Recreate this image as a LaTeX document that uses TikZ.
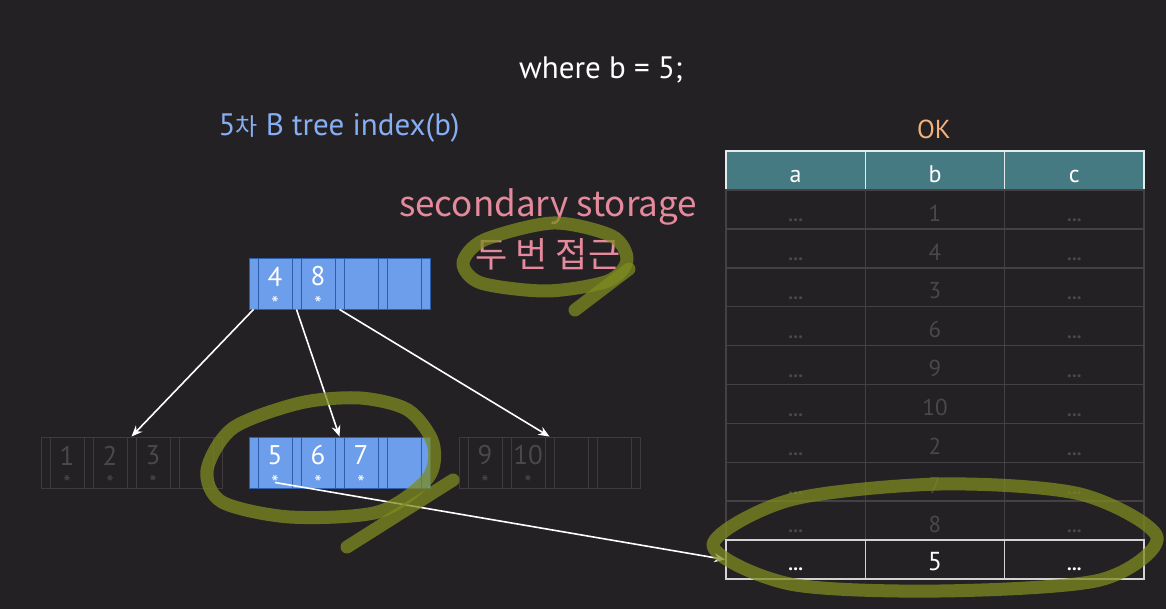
\documentclass[tikz,border=0pt]{standalone}
\usepackage{fontspec}
\setmainfont{PT Sans}
\newfontfamily\kor{Noto Sans CJK KR}
\usetikzlibrary{arrows.meta,calc}

\definecolor{bgdark}{HTML}{242124}
\definecolor{keyblue}{HTML}{6D9EEB}
\definecolor{keyline}{HTML}{2F5DAE}
\definecolor{headteal}{HTML}{467A83}
\definecolor{okorange}{HTML}{F2B07A}
\definecolor{notepink}{HTML}{E48A9C}
\definecolor{idxblue}{HTML}{86AEF2}
\definecolor{fadeline}{HTML}{3D3B3E}
\definecolor{fadetext}{HTML}{4A484B}
\definecolor{gridline}{HTML}{434144}
\definecolor{marker}{HTML}{7D8B1F}

\tikzset{
  ptrbox/.style={draw, inner sep=0pt, minimum width=9pt, minimum height=51pt},
  keybox/.style={draw, inner sep=0pt, minimum width=34pt, minimum height=51pt},
  live/.style={fill=keyblue, draw=keyline, line width=0.9pt, text=white},
  faded/.style={draw=fadeline, line width=0.9pt, text=fadetext},
  keynum/.style={font=\fontsize{27}{30}\selectfont, inner sep=0pt},
  keystar/.style={font=\fontsize{21}{22}\selectfont, inner sep=0pt},
  tcell/.style={draw=gridline, line width=1.6pt, inner sep=0pt, minimum width=139.33pt, minimum height=38.9pt},
  hcell/.style={tcell, fill=headteal, draw=white!85!headteal},
  hdtext/.style={text=white, font=\fontsize{24}{26}\selectfont, inner sep=0pt, anchor=base},
  tval/.style={text=fadetext, font=\fontsize{23}{26}\selectfont, inner sep=0pt},
  tdots/.style={text=fadetext, font=\fontsize{19}{20}\selectfont\bfseries, inner sep=0pt, anchor=base},
  ptrarrow/.style={draw=white, line width=1.6pt, -{Stealth[length=11pt,width=9pt]}},
  hilite/.style={draw=marker, opacity=0.75, line width=13pt, line cap=round, line join=round},
}

% one B tree node: name, left x, top y, look, keys
\newcommand{\btnode}[5]{%
  \foreach \i in {1,...,5}
    \node[ptrbox,#4] (#1-p\i) at ({#2+4.5+43*(\i-1)},{#3+25.5}) {};
  \foreach \i in {1,...,4}
    \node[keybox,#4] (#1-k\i) at ({#2+26+43*(\i-1)},{#3+25.5}) {};
  \foreach \k [count=\i] in {#5} {
    \node[keynum,#4,draw=none,fill=none] (#1-n\i) at ($(#1-k\i.center)+(0,-7)$) {\k};
    \node[keystar,#4,draw=none,fill=none] (#1-s\i) at ($(#1-k\i.center)+(0,20)$) {*};
  }
}

\begin{document}
\begin{tikzpicture}[x=1pt,y=-1pt]
  \useasboundingbox (0,0) rectangle (1166,609);
  \fill[bgdark] (0,0) rectangle (1166,609);

  % titles
  \node[text=white, font=\fontsize{31}{34}\selectfont] (query) at (601,70) {where b = 5;};
  \node[text=idxblue, font=\fontsize{31}{34}\selectfont] (idxtitle) at (339,128) {5{\kor\fontsize{24}{26}\selectfont 차} B tree index(b)};
  \node[text=okorange, font=\fontsize{26}{30}\selectfont] (oktitle) at (934,129) {OK};
  \node[text=notepink, font=\kor\fontsize{35}{38}\selectfont] (note1) at (548,207) {secondary storage};
  \node[text=notepink, font=\kor\fontsize{35}{38}\selectfont] (note2) at (548,254) {두 번 접근};

  % B tree
  \btnode{root}{249}{258}{live}{4,8}
  \btnode{left}{41}{437}{faded}{1,2,3}
  \btnode{mid}{249}{437}{live}{5,6,7}
  \btnode{right}{459}{437}{faded}{9,10}

  \draw[ptrarrow] (root-p1.south) -- (left-p3.north);
  \draw[ptrarrow] (root-p2.south) -- (mid-p3.north);
  \draw[ptrarrow] (root-p3.south) -- (right-p3.north);

  % table
  \foreach \col [count=\j] in {a,b,c} {
    \node[hcell] (h-\j) at ({726+139.33*(\j-0.5)},170.5) {};
    \node[hdtext] (ht-\j) at ($(h-\j.south)+(0,-8)$) {\col};
  }
  \foreach \v [count=\i] in {1,4,3,6,9,10,2,7,8} {
    \foreach \j in {1,2,3}
      \node[tcell] (r\i-\j) at ({726+139.33*(\j-0.5)},{190+38.9*(\i-0.5)}) {};
    \node[tval] (v\i) at ($(r\i-2.center)+(0,3.5)$) {\v};
    \node[tdots] (a\i) at ($(r\i-1.south)+(0,-8)$) {...};
    \node[tdots] (c\i) at ($(r\i-3.south)+(0,-8)$) {...};
  }
  \foreach \j in {1,2,3}
    \node[tcell, draw=white!80!bgdark] (r10-\j) at ({726+139.33*(\j-0.5)},{190+38.9*9.5}) {};
  \node[tval, text=white, font=\fontsize{26}{28}\selectfont] (v10) at ($(r10-2.center)+(0,2.5)$) {5};
  \node[tdots, text=white] (a10) at ($(r10-1.south)+(0,-9)$) {...};
  \node[tdots, text=white] (c10) at ($(r10-3.south)+(0,-9)$) {...};

  \draw[ptrarrow] (mid-s1.center) -- (r10-1.west);

  % marker strokes
  \draw[hilite] plot[smooth cycle] coordinates {(553,223) (612,236) (627,260) (608,281) (547,291) (481,283) (463,263) (484,240)};
  \draw[hilite] (629,269) -- (575,310);
  \draw[hilite] plot[smooth cycle] coordinates {(300,403) (360,398) (408,410) (433,443) (428,478) (378,512) (290,517) (222,502) (207,470) (233,428)};
  \draw[hilite] (453,480) -- (347,547);
  \draw[hilite] plot[smooth cycle] coordinates {(713,545) (790,500) (940,484) (1080,494) (1157,537) (1100,580) (940,591) (790,584)};
\end{tikzpicture}
\end{document}
